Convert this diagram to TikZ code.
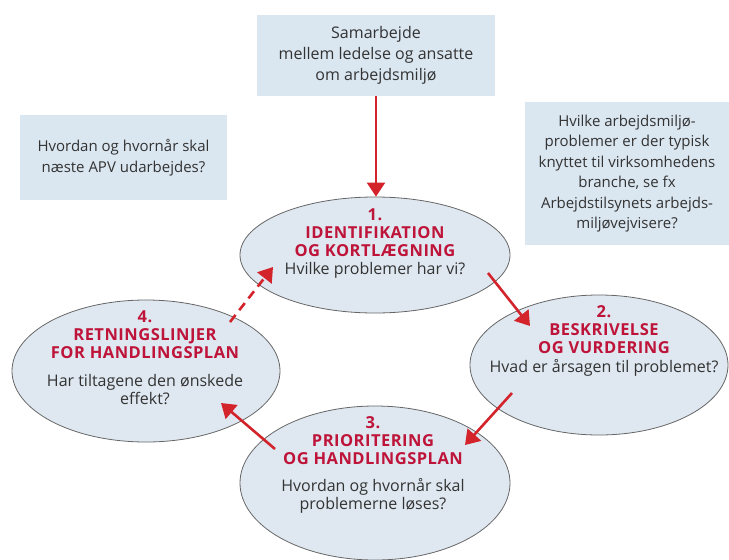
\documentclass[tikz,border=0pt]{standalone}
\usepackage{fontspec}
\setmainfont{Open Sans}
\usetikzlibrary{shapes.geometric,arrows.meta}

\definecolor{boxblue}{HTML}{DAE6F0}
\definecolor{ringblue}{HTML}{DFE8F1}
\definecolor{headred}{HTML}{BE1439}
\definecolor{arrowred}{HTML}{D3232B}
\definecolor{txtgray}{HTML}{333333}

\begin{document}
\begin{tikzpicture}[x=1pt, y=-1pt,
    infobox/.style = {fill=boxblue, align=center, text=txtgray, inner sep=0pt,
                      font=\fontsize{15}{21}\selectfont},
    stage/.style = {ellipse, fill=ringblue, draw=gray!80!black, line width=0.8pt, inner sep=0pt},
    stagehead/.style = {align=center, text=headred,
                        font=\bfseries\fontsize{16.5}{18}\selectfont\addfontfeatures{LetterSpace=3}},
    stagetext/.style = {align=center, text=txtgray, font=\fontsize{16}{18}\selectfont},
    flow/.style = {draw=arrowred, line width=2.6pt, -{Triangle[length=14pt,width=18pt]}}
  ]
  \useasboundingbox (0,0) rectangle (729,560);

  % boxes
  \node [infobox, minimum width=238, minimum height=81, font=\fontsize{16}{21}\selectfont] (top) at (376,55)
    {Samarbejde\\mellem ledelse og ansatte\\om arbejdsmiljø};
  \node [infobox, minimum width=207, minimum height=85] (next) at (123.5,157.5)
    {Hvordan og hvornår skal\\næste APV udarbejdes?};
  \node [infobox, minimum width=204, minimum height=143, font=\fontsize{15}{20.4}\selectfont] (branch) at (627,173.5)
    {Hvilke arbejdsmiljø-\\problemer er der typisk\\knyttet til virksomhedens\\branche, se fx\\Arbejdstilsynets arbejds-\\miljøvejvisere?};

  % the four stages
  \node [stage, minimum width=270, minimum height=116] (s1) at (375,255) {};
  \node [stage, minimum width=258, minimum height=140] (s2) at (599,365) {};
  \node [stage, minimum width=270, minimum height=154] (s3) at (375,483) {};
  \node [stage, minimum width=268, minimum height=142] (s4) at (146,371) {};

  \node [stagehead] (h1) at (375,233) {1.\\IDENTIFIKATION\\OG KORTLÆGNING};
  \node [stagetext] (q1) at (375,270) {Hvilke problemer har vi?};

  \node [stagehead] (h2) at (604,330) {2.\\BESKRIVELSE\\OG VURDERING};
  \node [stagetext] (q2) at (604,368) {Hvad er årsagen til problemet?};

  \node [stagehead] (h3) at (373,441) {3.\\PRIORITERING\\OG HANDLINGSPLAN};
  \node [stagetext] (q3) at (373,496) {Hvordan og hvornår skal\\problemerne løses?};

  \node [stagehead] (h4) at (145,335) {4.\\RETNINGSLINJER\\FOR HANDLINGSPLAN};
  \node [stagetext] (q4) at (145,390) {Har tiltagene den ønskede\\effekt?};

  % arrows
  \draw [flow] (top.south) -- (top.south |- s1.north);
  \draw [flow] ([shift={(113,18)}]s1.center) -- ([shift={(-69,-39)}]s2.center);
  \draw [flow] ([shift={(-87,28)}]s2.center) -- ([shift={(90,-38)}]s3.center);
  \draw [flow] ([shift={(-100,-34)}]s3.center) -- ([shift={(75,32)}]s4.center);
  \draw [flow, dash pattern=on 9pt off 6pt] ([shift={(84,-49)}]s4.center) -- ([shift={(-102,12)}]s1.center);

\end{tikzpicture}
\end{document}
